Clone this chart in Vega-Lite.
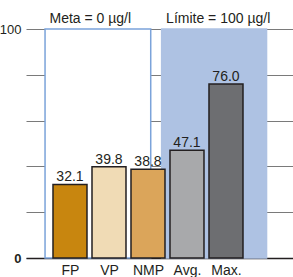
{
  "$schema": "https://vega.github.io/schema/vega-lite/v6.json",
  "width": 267,
  "height": 229,
  "autosize": "none",
  "padding": {"left": 26, "top": 29, "right": 0, "bottom": 19},
  "config": {
    "view": {"stroke": null},
    "font": "Liberation Sans",
    "text": {"font": "Liberation Sans"}
  },
  "resolve": {"scale": {"fill": "independent", "stroke": "independent"}},
  "datasets": {
    "bars": [
      {"name": "FP", "pos": 1, "value": 32.1},
      {"name": "VP", "pos": 2, "value": 39.8},
      {"name": "NMP", "pos": 3, "value": 38.8},
      {"name": "Avg.", "pos": 4, "value": 47.1},
      {"name": "Max.", "pos": 5, "value": 76.0}
    ],
    "boxes": [
      {"box": "Meta", "x0": 0.36, "x1": 3.07, "lo": 0, "hi": 100, "label": "Meta = 0 µg/l", "lx": 1.52},
      {"box": "Límite", "x0": 3.35, "x1": 6.04, "lo": 0, "hi": 100, "label": "Límite = 100 µg/l", "lx": 4.8}
    ]
  },
  "layer": [
    {
      "data": {"name": "boxes"},
      "mark": {"type": "rect", "strokeWidth": 1.5},
      "encoding": {
        "x": {
          "field": "x0", "type": "quantitative", "title": null,
          "scale": {"domain": [0, 6.59], "nice": false, "zero": false},
          "axis": {
            "values": [1, 2, 3, 4, 5],
            "labelExpr": "['','FP','VP','NMP','Avg.','Max.'][datum.value]",
            "ticks": false, "grid": false,
            "domainColor": "#231f20", "domainWidth": 1.5,
            "labelFontSize": 14, "labelColor": "#231f20", "labelPadding": 5,
            "labelFont": "Liberation Sans"
          }
        },
        "x2": {"field": "x1"},
        "y": {
          "field": "hi", "type": "quantitative", "title": null,
          "scale": {"domain": [0, 100], "nice": false},
          "axis": {
            "values": [0, 20, 40, 60, 80, 100],
            "labelExpr": "datum.value == 0 || datum.value == 100 ? datum.label : ''",
            "domain": false, "ticks": false, "grid": true,
            "gridColor": "#7a7a7a", "gridWidth": 1.2,
            "labelFontSize": 13, "labelColor": "#231f20", "labelPadding": 5,
            "labelFont": "Liberation Sans",
            "labelFontWeight": {"condition": {"test": "datum.value == 0", "value": "bold"}, "value": "normal"}
          }
        },
        "y2": {"field": "lo"},
        "fill": {"field": "box", "type": "nominal", "scale": {"domain": ["Meta", "Límite"], "range": ["#ffffff", "#aec2e3"]}, "legend": null},
        "stroke": {"field": "box", "type": "nominal", "scale": {"domain": ["Meta", "Límite"], "range": ["#7ba3da", "#aec2e3"]}, "legend": null}
      }
    },
    {
      "data": {"name": "boxes"},
      "mark": {"type": "text", "fontSize": 14, "baseline": "alphabetic", "dy": -6, "color": "#231f20"},
      "encoding": {
        "x": {"field": "lx", "type": "quantitative", "title": null},
        "y": {"field": "hi", "type": "quantitative", "title": null},
        "text": {"field": "label"}
      }
    },
    {
      "data": {"name": "bars"},
      "mark": {"type": "bar", "orient": "vertical", "width": 34, "stroke": "#231f20", "strokeWidth": 1.5},
      "encoding": {
        "x": {"field": "pos", "type": "quantitative", "title": null},
        "y": {"field": "value", "type": "quantitative", "title": null},
        "fill": {"field": "name", "type": "nominal", "scale": {"domain": ["FP", "VP", "NMP", "Avg.", "Max."], "range": ["#c8860f", "#f0dbb5", "#dba55a", "#a8a9ab", "#6d6e71"]}, "legend": null}
      }
    },
    {
      "data": {"name": "bars"},
      "mark": {"type": "text", "fontSize": 14, "baseline": "alphabetic", "dy": -3, "color": "#231f20"},
      "encoding": {
        "x": {"field": "pos", "type": "quantitative", "title": null},
        "y": {"field": "value", "type": "quantitative", "title": null},
        "text": {"field": "value", "type": "quantitative", "format": ".1f"}
      }
    }
  ]
}
